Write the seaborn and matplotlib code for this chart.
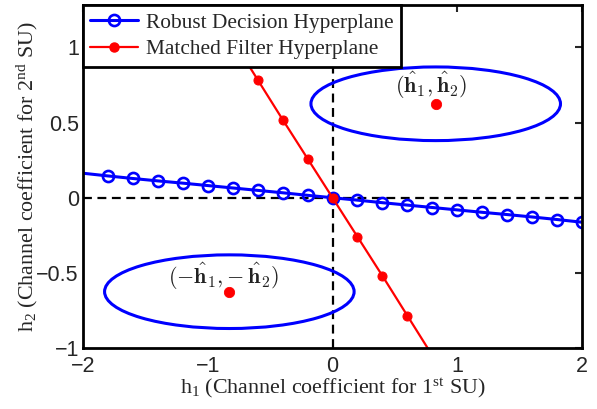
import matplotlib
matplotlib.use("Agg")
import matplotlib.pyplot as plt
from matplotlib.lines import Line2D
from matplotlib.patches import Ellipse
import seaborn as sns

# robust decision hyperplane
robust_x = [-2.0, -1.8, -1.6, -1.4, -1.2, -1.0, -0.8, -0.6, -0.4, -0.2, 0.0,
            0.2, 0.4, 0.6, 0.8, 1.0, 1.2, 1.4, 1.6, 1.8, 2.0]
robust_y = [0.163, 0.145, 0.128, 0.112, 0.097, 0.081, 0.065, 0.049, 0.033, 0.016, 0.0,
            -0.016, -0.033, -0.049, -0.065, -0.081, -0.097, -0.112, -0.128, -0.145, -0.163]

# matched filter hyperplane
matched_x = [-0.8, -0.6, -0.4, -0.2, 0.0, 0.2, 0.4, 0.6, 0.8]
matched_y = [1.05, 0.785, 0.52, 0.26, 0.0, -0.26, -0.52, -0.785, -1.05]

# channel estimates and their uncertainty regions
est_x = [0.827, -0.827]
est_y = [0.625, -0.625]
est_labels = [r"$(\mathbf{\hat{h}_1},\mathbf{\hat{h}_2})$",
              r"$(-\mathbf{\hat{h}_1}{,}-\mathbf{\hat{h}_2})$"]
ellipse_w = 2.0
ellipse_h = 0.49

legend_labels = ["Robust Decision Hyperplane", "Matched Filter Hyperplane"]

sns.set_style("white")
plt.rcParams["font.family"] = ["Liberation Sans", "DejaVu Sans"]
plt.rcParams["mathtext.fontset"] = "custom"
plt.rcParams["mathtext.rm"] = "Liberation Serif"
plt.rcParams["mathtext.it"] = "Liberation Serif:italic"
plt.rcParams["mathtext.bf"] = "Liberation Serif:bold"

fig = plt.figure(figsize=(5.97, 4.09), dpi=100)
ax = fig.add_axes([0.139, 0.149, 0.836, 0.838])

ax.axhline(0, color="black", lw=1.6, dashes=(4, 2.5), zorder=1)
ax.axvline(0, color="black", lw=1.6, dashes=(4, 2.5), zorder=1)

sns.lineplot(x=robust_x, y=robust_y, color="blue", lw=2.2, sort=False, ax=ax)
sns.lineplot(x=robust_x[1:], y=robust_y[1:], color="blue", lw=0, marker="o",
             markersize=8, markerfacecolor="none", markeredgecolor="blue",
             markeredgewidth=1.9, sort=False, ax=ax)
sns.lineplot(x=matched_x, y=matched_y, color="red", lw=1.6, marker="o",
             markersize=6.5, markeredgecolor="red", sort=False, ax=ax)

for cx, cy, lab, dx, dy in zip(est_x, est_y, est_labels, [-0.035, -0.05], [0.12, 0.10]):
    ax.add_patch(Ellipse((cx, cy), ellipse_w, ellipse_h, fill=False,
                         edgecolor="blue", lw=2.2, zorder=3))
    sns.scatterplot(x=[cx], y=[cy], color="red", s=55, edgecolor="red",
                    zorder=4, ax=ax)
    ax.text(cx + dx, cy + dy, lab, ha="center", va="center", fontsize=16,
            math_fontfamily="cm", color="#222222")

ax.set_xlim(-2, 2)
ax.set_ylim(-1, 1.28)
ax.set_xticks([-2, -1, 0, 1, 2])
ax.set_yticks([-1, -0.5, 0, 0.5, 1])
ax.set_yticklabels(["\u22121", "\u22120.5", "0", "0.5", "1"])
ax.tick_params(direction="in", length=5, width=1.5, labelsize=15.5,
               top=True, right=True)
ax.tick_params(axis="x", pad=6)
ax.tick_params(axis="y", pad=3)
for sp in ax.spines.values():
    sp.set_linewidth(2)
    sp.set_color("black")

ax.set_xlabel(r"h$_1$ (Channel coefficient for 1$^{\rm st}$ SU)",
              family="Liberation Serif", fontsize=15.8, labelpad=-1)
ax.set_ylabel(r"h$_2$ (Channel coefficient for 2$^{\rm nd}$ SU)",
              family="Liberation Serif", fontsize=15.8, labelpad=-3)

handles = [
    Line2D([], [], color="blue", lw=2.2, marker="o", markersize=8,
           markerfacecolor="none", markeredgewidth=1.9),
    Line2D([], [], color="red", lw=1.6, marker="o", markersize=6.5),
]
leg = ax.legend(handles, legend_labels, loc="upper left", bbox_to_anchor=(0, 1),
                borderaxespad=0, fancybox=False, framealpha=1, edgecolor="black",
                prop={"family": "Liberation Serif", "size": 15.4},
                handlelength=2.2, handletextpad=0.4, borderpad=0.35,
                labelspacing=0.3)
leg.get_frame().set_linewidth(2)

fig.savefig("out.png", dpi=100)
